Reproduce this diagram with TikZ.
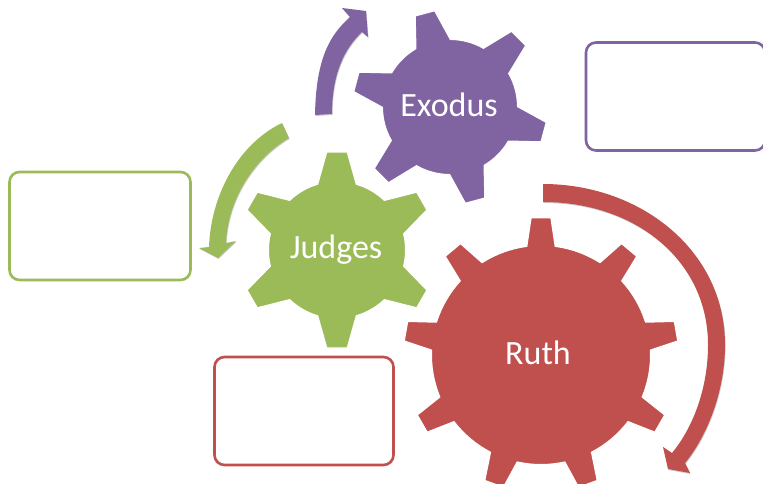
\documentclass[tikz,border=0pt]{standalone}
\usepackage{fontspec}
\setmainfont{Carlito}
\usetikzlibrary{shadows}
\usetikzlibrary{positioning}

\definecolor{exoduscol}{HTML}{8064A2}
\definecolor{judgescol}{HTML}{9BBB59}
\definecolor{ruthcol}{HTML}{C0504D}

\tikzset{
    softshadow/.style={drop shadow={shadow xshift=0.6pt,shadow yshift=-1pt,opacity=0.2,fill=black}},
    gearbody/.style={draw=white,line width=4pt,line join=miter,softshadow},
    notebox/.style={draw,line width=2.6pt,rounded corners=10pt,fill=white,inner sep=0pt},
    gearlabel/.style={text=white,font=\fontsize{34}{34}\selectfont,inner sep=0pt},
    bentarrow/.style={softshadow}
}

% centre x, centre y, teeth, first tooth angle, body r, tip r, base half angle, tip half angle, colour
\newcommand{\drawgear}[9]{
    \begin{scope}[shift={(#1,#2)}]
        \pgfmathsetmacro{\gearstep}{360/#3}
        \path[gearbody,fill=#9] (#4-#7:#5pt)
            \foreach \k in {1,...,#3}{
                -- ({#4+(\k-1)*\gearstep-#8}:#6pt)
                -- ({#4+(\k-1)*\gearstep+#8}:#6pt)
                -- ({#4+(\k-1)*\gearstep+#7}:#5pt)
                arc[start angle={#4+(\k-1)*\gearstep+#7},end angle={#4+\k*\gearstep-#7},radius=#5pt]
            } -- cycle;
    \end{scope}
}

\begin{document}
\begin{tikzpicture}[x=1pt,y=1pt]

        \useasboundingbox (0,0) rectangle (763,483);
        \clip (0,0) rectangle (763,483);

        \begin{scope}[every node/.style={notebox,minimum height=108pt}]
            \node[draw=exoduscol,minimum width=179pt] (exodusbox) at (675.5,386.5) {};
            \node[draw=judgescol,minimum width=181pt] (judgesbox) at (100,257) {};
            \node[draw=ruthcol,minimum width=179pt] (ruthbox) at (304,72) {};
        \end{scope}

        \drawgear{541}{128}{9}{90}{111}{139}{8}{4.6}{ruthcol}
        \drawgear{337}{233}{6}{90}{70}{100}{17}{6.5}{judgescol}
        \drawgear{450}{376}{6}{105}{69}{99}{16}{6.5}{exoduscol}

        \node[gearlabel] (ruth) at (538,130) {Ruth};
        \node[gearlabel] (judges) at (336,233) {Judges};
        \node[gearlabel] (exodus) at (449,378) {Exodus};

        % the three bent arrows
        \fill[bentarrow,exoduscol] (315,368) .. controls (316,425) and (330,448) .. (350,466)
            -- (342,475) -- (366,472) -- (368,446) -- (362,451)
            .. controls (345,435) and (332,410) .. (332,369) -- cycle;
        \fill[bentarrow,judgescol] (282,360) .. controls (240,340) and (211,290) .. (209,236)
            -- (199,235) -- (218,225) -- (236,242) -- (226,240)
            .. controls (228,285) and (255,325) .. (289,345) -- cycle;
        \fill[bentarrow,ruthcol] (543,299) .. controls (640,299) and (725,233) .. (725,138)
            .. controls (725,93) and (708,48) .. (685,20)
            -- (690,10) -- (668,14) -- (663,36) -- (672,30)
            .. controls (695,58) and (708,98) .. (708,138)
            .. controls (708,223) and (635,281) .. (543,281) -- cycle;

    \end{tikzpicture}
\end{document}
